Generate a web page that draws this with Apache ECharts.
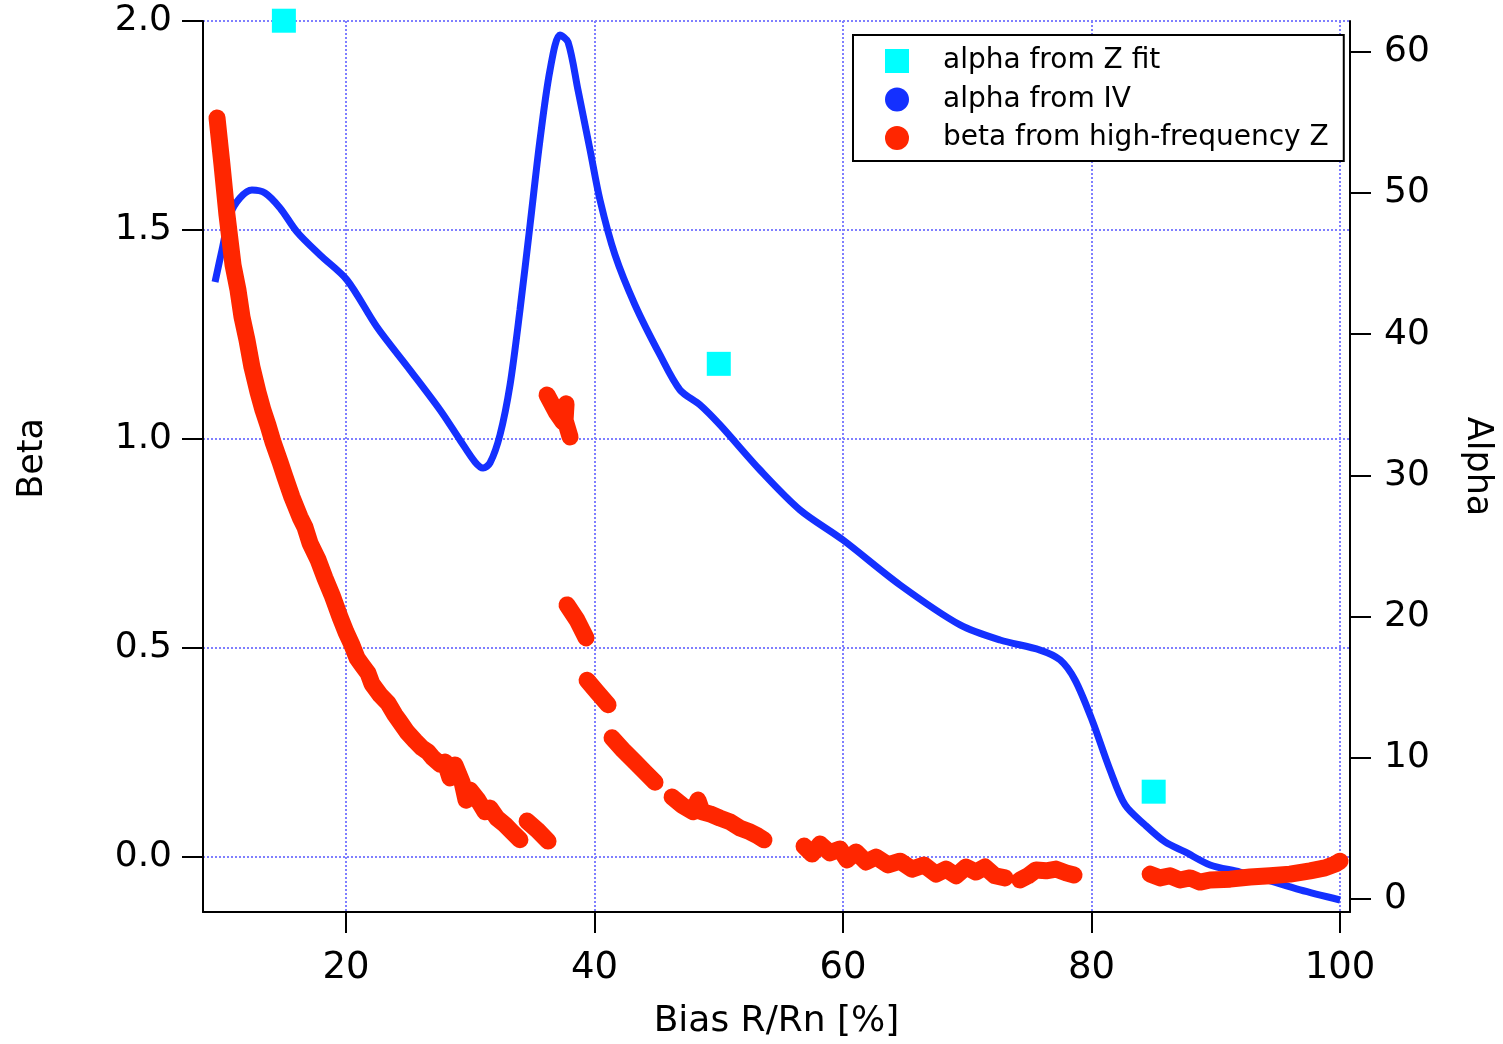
<!DOCTYPE html>
<html>
<head>
<meta charset="utf-8">
<script src="https://cdn.jsdelivr.net/npm/echarts@6/dist/echarts.min.js"></script>
<style>
html,body{margin:0;padding:0;background:#fff;}
#chart{width:1503px;height:1044px;}
</style>
</head>
<body>
<div id="chart"></div>
<script>
// ---- data ----
const xTicks = [20, 40, 60, 80, 100];
const betaTicks = [0, 0.5, 1.0, 1.5, 2.0];
const alphaTicks = [0, 10, 20, 30, 40, 50, 60];

const zfitX = [15, 50, 85];
const zfitAlpha = [62.2, 37.9, 7.6];

const ivX = [9.46, 10.02, 10.66, 11.47, 12.43, 13.48, 14.69, 16.06, 17.91, 20.08, 22.49, 25.15, 27.57, 29.17, 30.38, 31.03, 31.59, 32.39, 33.20, 34.00, 34.81, 35.61, 36.42, 37.22, 37.87, 38.67, 39.64, 40.44, 41.65, 43.26, 45.27, 46.88, 48.49, 50.10, 53.32, 56.54, 60.00, 64.59, 69.42, 72.64, 75.86, 77.47, 78.67, 80.04, 81.49, 82.70, 84.31, 85.92, 87.53, 89.54, 91.95, 94.13, 96.79, 100.0];
const ivAlpha = [43.70, 45.96, 48.44, 49.65, 50.21, 50.00, 48.94, 47.24, 45.61, 43.84, 40.51, 37.46, 34.63, 32.51, 30.95, 30.52, 30.88, 32.86, 36.40, 41.71, 47.73, 53.75, 58.71, 61.19, 60.69, 57.29, 53.05, 49.50, 45.61, 42.07, 38.53, 36.05, 34.99, 33.57, 30.38, 27.55, 25.42, 22.24, 19.41, 18.34, 17.63, 16.93, 15.51, 12.68, 9.14, 6.66, 5.24, 4.04, 3.33, 2.41, 1.91, 1.35, 0.64, -0.07];

// null entries separate the measured runs
const betaX = [9.62, 10.02, 10.42, 10.91, 11.31, 11.63, 12.03, 12.43, 12.92, 13.32, 13.72, 14.12, 14.69, 15.09, 15.65, 16.30, 16.70, 17.10, 17.75, 18.31, 18.87, 19.52, 20.00, 20.48, 20.89, 21.29, 21.77, 22.09, 22.74, 23.38, 23.94, 24.35, 24.91, 25.55, 26.12, 26.60, 27.00, 27.57, 27.97, 28.37, 28.77, 29.34, 29.66, 29.98, 30.62, 31.19, 31.59, 32.15, 32.80, 33.36, 34.00, null,
  34.57, 35.37, 36.26, null,
  36.18, 36.90, 37.46, 37.71, 37.63, 38.03, null,
  37.79, 38.59, 39.32, null,
  39.40, 40.20, 41.09, null,
  41.41, 42.29, 43.26, 44.06, 44.87, null,
  46.24, 47.04, 47.93, 48.33, 48.65, 49.30, 50.10, 50.91, 51.71, 52.52, 53.16, 53.64, null,
  56.86, 57.51, 58.15, 58.95, 59.76, 60.32, 61.05, 61.85, 62.66, 63.62, 64.59, 65.55, 66.52, 67.48, 68.29, 69.09, 69.90, 70.70, 71.43, 72.23, 73.04, null,
  74.24, 74.89, 75.53, 76.34, 77.14, 77.95, 78.59, null,
  84.71, 85.51, 86.32, 87.12, 87.93, 88.73, 89.54, 91.15, 92.76, 94.37, 95.98, 97.59, 98.79, 99.60, 100.0];
const betaY = [1.768, 1.656, 1.536, 1.416, 1.356, 1.292, 1.237, 1.172, 1.112, 1.069, 1.033, 0.993, 0.945, 0.909, 0.861, 0.813, 0.789, 0.751, 0.711, 0.667, 0.627, 0.574, 0.538, 0.507, 0.476, 0.459, 0.440, 0.414, 0.388, 0.368, 0.340, 0.323, 0.299, 0.278, 0.261, 0.251, 0.237, 0.222, 0.227, 0.189, 0.220, 0.179, 0.136, 0.160, 0.136, 0.108, 0.117, 0.093, 0.077, 0.060, 0.041, null,
  0.086, 0.065, 0.038, null,
  1.105, 1.065, 1.041, 1.084, 1.045, 1.005, null,
  0.603, 0.567, 0.524, null,
  0.423, 0.395, 0.364, null,
  0.285, 0.256, 0.227, 0.203, 0.179, null,
  0.1435, 0.124, 0.108, 0.136, 0.108, 0.103, 0.093, 0.084, 0.069, 0.060, 0.050, 0.041, null,
  0.026, 0.007, 0.031, 0.010, 0.019, -0.007, 0.012, -0.012, 0.000, -0.019, -0.010, -0.029, -0.019, -0.041, -0.029, -0.045, -0.024, -0.036, -0.024, -0.045, -0.050, null,
  -0.055, -0.045, -0.031, -0.033, -0.029, -0.038, -0.043, null,
  -0.041, -0.050, -0.045, -0.055, -0.050, -0.060, -0.055, -0.053, -0.048, -0.045, -0.041, -0.033, -0.026, -0.017, -0.010];

// ---- chart ----
const FONT = 'DejaVu Sans';
const gridColor = '#7f7fff';
const chart = echarts.init(document.getElementById('chart'), null, {renderer: 'canvas'});

const zfitData = zfitX.map((x, i) => [x, zfitAlpha[i]]);
const ivData = ivX.map((x, i) => [x, ivAlpha[i]]);
const betaData = betaX.map((x, i) => (x === null || betaY[i] === null) ? '-' : [x, betaY[i]]);

const axisLineStyle = {color: '#000', width: 2};
const gridLineStyle = {color: gridColor, width: 2, type: [2, 2]};

chart.setOption({
  animation: false,
  backgroundColor: '#fff',
  textStyle: {fontFamily: FONT},
  grid: {left: 203, right: 153, top: 21, bottom: 132, containLabel: false, outerBoundsMode: 'none'},
  legend: {
    orient: 'vertical',
    left: 853, top: 35,
    padding: [11, 15, 8, 32],
    itemWidth: 24, itemHeight: 24, itemGap: 8.5,
    borderColor: '#000', borderWidth: 2, backgroundColor: '#fff',
    textStyle: {fontFamily: FONT, fontSize: 28, color: '#000', lineHeight: 30, padding: [0, 0, 0, 29]},
    data: [
      {name: 'alpha from Z fit', icon: 'rect'},
      {name: 'alpha from IV', icon: 'circle'},
      {name: 'beta from high-frequency Z', icon: 'circle'}
    ]
  },
  xAxis: {
    type: 'value', min: 8.491, max: 100.8,
    name: 'Bias R/Rn [%]', nameLocation: 'middle', nameGap: 92,
    nameTextStyle: {fontFamily: FONT, fontSize: 36, color: '#000'},
    axisLine: {show: true, onZero: false, lineStyle: axisLineStyle},
    axisTick: {show: true, inside: false, length: 21, customValues: xTicks, lineStyle: axisLineStyle},
    axisLabel: {customValues: xTicks, margin: 38, fontFamily: FONT, fontSize: 37, color: '#000'},
    splitLine: {show: true, lineStyle: gridLineStyle}
  },
  yAxis: [
    {
      type: 'value', min: -0.1316, max: 2.0, position: 'left',
      name: 'Beta', nameLocation: 'middle', nameGap: 153,
      nameTextStyle: {fontFamily: FONT, fontSize: 35, color: '#000', padding: [0, 0, 0, 16]},
      axisLine: {show: true, onZero: false, lineStyle: axisLineStyle},
      axisTick: {show: true, inside: false, length: 21, customValues: betaTicks, lineStyle: axisLineStyle},
      axisLabel: {customValues: betaTicks, margin: 31, fontFamily: FONT, fontSize: 36, color: '#000',
        formatter: v => Number(v).toFixed(1)},
      splitLine: {show: true, lineStyle: gridLineStyle}
    },
    {
      type: 'value', min: -0.921, max: 62.18, position: 'right',
      name: 'Alpha', nameLocation: 'middle', nameGap: 110, nameRotate: -90,
      nameTextStyle: {fontFamily: FONT, fontSize: 35, color: '#000'},
      axisLine: {show: true, onZero: false, lineStyle: axisLineStyle},
      axisTick: {show: true, inside: false, length: 21, customValues: alphaTicks, lineStyle: axisLineStyle},
      axisLabel: {customValues: alphaTicks, margin: 34, fontFamily: FONT, fontSize: 36, color: '#000'},
      splitLine: {show: false}
    }
  ],
  series: [
    {
      name: 'alpha from Z fit', type: 'scatter', yAxisIndex: 1, z: 4,
      symbol: 'rect', symbolSize: 24, clip: false,
      itemStyle: {color: '#00ffff', opacity: 1},
      data: zfitData
    },
    {
      name: 'alpha from IV', type: 'line', yAxisIndex: 1, z: 2,
      showSymbol: false, symbol: 'circle', smooth: 0.3,
      itemStyle: {color: '#1430ff'},
      lineStyle: {color: '#1430ff', width: 7},
      data: ivData
    },
    {
      name: 'beta from high-frequency Z', type: 'line', yAxisIndex: 0, z: 3,
      showSymbol: false, symbol: 'circle', connectNulls: false,
      itemStyle: {color: '#ff2600'},
      lineStyle: {color: '#ff2600', width: 17, cap: 'round', join: 'round'},
      data: betaData
    }
  ]
});
</script>
</body>
</html>
